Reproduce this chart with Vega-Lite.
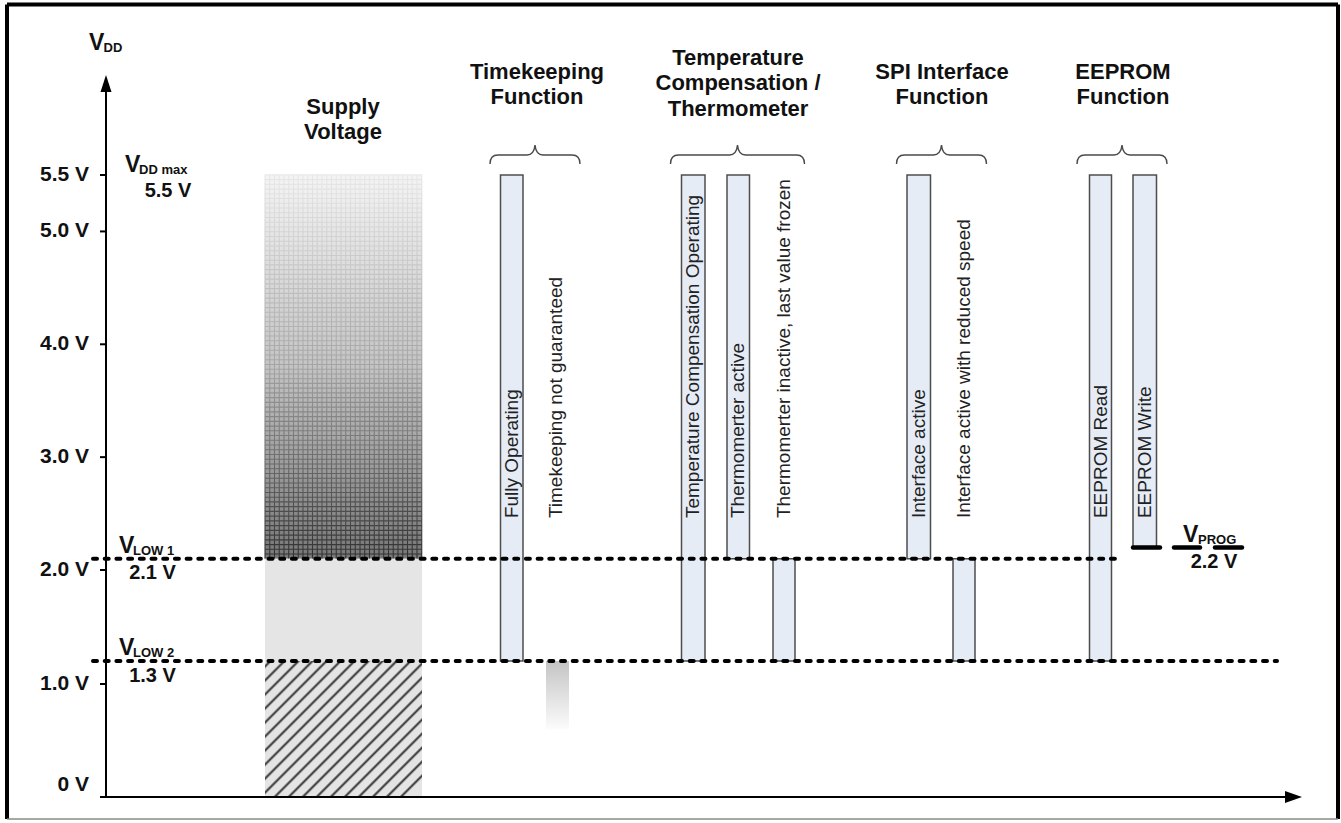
{
 "$schema": "https://vega.github.io/schema/vega-lite/v6.json",
 "width": 1341, "height": 823, "autosize": {"type": "none"}, "padding": 0,
 "background": "white",
 "config": {"view": {"stroke": null}, "text": {"font": "Liberation Sans"}},
 "datasets": {
  "frameThick": [
   {"x": 7, "x2": 7, "v": 7.011, "v2": -0.195},
   {"x": 7, "x2": 1338, "v": 7.011, "v2": 7.011},
   {"x": 1338, "x2": 1338, "v": 7.011, "v2": -0.195}
  ],
  "frameThin": [{"x": 7, "x2": 1338, "v": -0.195, "v2": -0.195}],
  "supplyTop": [{"x": 265, "x2": 422, "v": 2.1, "v2": 5.5}],
  "supplyGrid": [{"x": 343.5, "v": 3.8}],
  "supplyMid": [{"x": 265, "x2": 422, "v": 1.3, "v2": 2.1}],
  "supplyLow": [{"x": 265, "x2": 422, "v": 0, "v2": 1.3}],
  "notGuaranteed": [{"x": 546, "x2": 569, "v": 0.6, "v2": 1.3}],
  "bars": [
   {"x": 500.5, "x2": 523, "v": 1.3, "v2": 5.5, "name": "Fully Operating"},
   {"x": 681.5, "x2": 705, "v": 1.3, "v2": 5.5, "name": "Temperature Compensation Operating"},
   {"x": 727, "x2": 749.5, "v": 2.1, "v2": 5.5, "name": "Thermometer active"},
   {"x": 773, "x2": 795, "v": 1.3, "v2": 2.1, "name": "Thermometer inactive"},
   {"x": 907, "x2": 930.5, "v": 2.1, "v2": 5.5, "name": "Interface active"},
   {"x": 953, "x2": 975, "v": 1.3, "v2": 2.1, "name": "Interface reduced speed"},
   {"x": 1089.5, "x2": 1111.5, "v": 1.3, "v2": 5.5, "name": "EEPROM Read"},
   {"x": 1133, "x2": 1156.5, "v": 2.2, "v2": 5.5, "name": "EEPROM Write"}
  ],
  "axes": [
   {"x": 106, "x2": 106, "v": 0, "v2": 6.253},
   {"x": 100, "x2": 1290, "v": 0, "v2": 0},
   {"x": 100, "x2": 106, "v": 1, "v2": 1},
   {"x": 100, "x2": 106, "v": 2, "v2": 2},
   {"x": 100, "x2": 106, "v": 3, "v2": 3},
   {"x": 100, "x2": 106, "v": 4, "v2": 4},
   {"x": 100, "x2": 106, "v": 5, "v2": 5},
   {"x": 100, "x2": 106, "v": 5.5, "v2": 5.5}
  ],
  "arrowUp": [{"x": 106, "v": 6.311}],
  "arrowRight": [{"x": 1293.5, "v": 0}],
  "dashed": [
   {"x": 93, "x2": 1122, "v": 2.1, "v2": 2.1},
   {"x": 93, "x2": 1277, "v": 1.3, "v2": 1.3}
  ],
  "vprog": [
   {"x": 1133, "x2": 1160, "v": 2.2, "v2": 2.2},
   {"x": 1174, "x2": 1200, "v": 2.2, "v2": 2.2},
   {"x": 1215, "x2": 1242, "v": 2.2, "v2": 2.2}
  ],
  "bracesNarrow": [
   {"x": 535, "v": 5.677},
   {"x": 941.5, "v": 5.677},
   {"x": 1122, "v": 5.677}
  ],
  "bracesWide": [{"x": 737.5, "v": 5.677}],
  "headers": [
   {"x": 343, "v": 6.103, "t": "Supply\nVoltage"},
   {"x": 537, "v": 6.413, "t": "Timekeeping\nFunction"},
   {"x": 738, "v": 6.537, "t": "Temperature\nCompensation /\nThermometer"},
   {"x": 942, "v": 6.413, "t": "SPI Interface\nFunction"},
   {"x": 1123, "v": 6.413, "t": "EEPROM\nFunction"}
  ],
  "rotated": [
   {"x": 512, "v": 2.46, "t": "Fully Operating"},
   {"x": 556, "v": 2.46, "t": "Timekeeping not guaranteed"},
   {"x": 693, "v": 2.46, "t": "Temperature Compensation Operating"},
   {"x": 738, "v": 2.46, "t": "Thermomerter active"},
   {"x": 784, "v": 2.46, "t": "Thermomerter inactive, last value frozen"},
   {"x": 919, "v": 2.46, "t": "Interface active"},
   {"x": 964, "v": 2.46, "t": "Interface active with reduced speed"},
   {"x": 1100.5, "v": 2.46, "t": "EEPROM Read"},
   {"x": 1145, "v": 2.46, "t": "EEPROM Write"}
  ],
  "tickLabels": [
   {"x": 89, "v": 5.5, "t": "5.5 V"},
   {"x": 89, "v": 5, "t": "5.0 V"},
   {"x": 89, "v": 4, "t": "4.0 V"},
   {"x": 89, "v": 3, "t": "3.0 V"},
   {"x": 89, "v": 2, "t": "2.0 V"},
   {"x": 89, "v": 1, "t": "1.0 V"},
   {"x": 89, "v": 0.102, "t": "0 V"}
  ],
  "bigV": [
   {"x": 89, "v": 6.608, "t": "V"},
   {"x": 125, "v": 5.527, "t": "V"},
   {"x": 119, "v": 2.151, "t": "V"},
   {"x": 119, "v": 1.346, "t": "V"},
   {"x": 1183, "v": 2.248, "t": "V"}
  ],
  "subs": [
   {"x": 103.5, "v": 6.59, "t": "DD"},
   {"x": 139, "v": 5.509, "t": "DD max"},
   {"x": 133, "v": 2.133, "t": "LOW 1"},
   {"x": 133, "v": 1.331, "t": "LOW 2"},
   {"x": 1198, "v": 2.23, "t": "PROG"}
  ],
  "values": [
   {"x": 168, "v": 5.305, "t": "5.5 V"},
   {"x": 152.5, "v": 1.931, "t": "2.1 V"},
   {"x": 152.5, "v": 1.026, "t": "1.3 V"},
   {"x": 1214, "v": 2.018, "t": "2.2 V"}
  ]
 },
 "encoding": {
  "x": {"field": "x", "type": "quantitative", "scale": {"domain": [0, 1341], "range": [0, 1341], "nice": false, "zero": false}, "axis": null},
  "y": {"field": "v", "type": "quantitative", "scale": {"domain": [0, 1, 1.3, 2, 5.5], "range": [797, 684, 661, 570, 175], "nice": false, "zero": false}, "axis": null}
 },
 "layer": [
  {"data": {"name": "frameThick"}, "mark": {"type": "rule", "stroke": "black", "strokeWidth": 4},
   "encoding": {"x2": {"field": "x2"}, "y2": {"field": "v2"}}},
  {"data": {"name": "frameThin"}, "mark": {"type": "rule", "stroke": "#8a8a8a", "strokeWidth": 1.5},
   "encoding": {"x2": {"field": "x2"}, "y2": {"field": "v2"}}},
  {"data": {"name": "supplyTop"}, "mark": {"type": "rect", "fill": {"gradient": "linear", "x1": 0, "y1": 0, "x2": 0, "y2": 1, "stops": [{"offset": 0, "color": "#f4f4f4"}, {"offset": 0.5, "color": "#c4c4c4"}, {"offset": 1, "color": "#777777"}]}},
   "encoding": {"x2": {"field": "x2"}, "y2": {"field": "v2"}}},
  {"data": {"name": "supplyGrid"}, "mark": {"type": "point", "filled": false, "opacity": 1, "size": 4, "strokeWidth": 1.1,
    "shape": "M-78.5,-192v384m4.75,-384v384m4.75,-384v384m4.75,-384v384m4.75,-384v384m4.75,-384v384m4.75,-384v384m4.75,-384v384m4.75,-384v384m4.75,-384v384m4.75,-384v384m4.75,-384v384m4.75,-384v384m4.75,-384v384m4.75,-384v384m4.75,-384v384m4.75,-384v384m4.75,-384v384m4.75,-384v384m4.75,-384v384m4.75,-384v384m4.75,-384v384m4.75,-384v384m4.75,-384v384m4.75,-384v384m4.75,-384v384m4.75,-384v384m4.75,-384v384m4.75,-384v384m4.75,-384v384m4.75,-384v384m4.75,-384v384m4.75,-384v384m4.75,-384v384M-78.5,-192h157m-157,4.74h157m-157,4.74h157m-157,4.74h157m-157,4.74h157m-157,4.74h157m-157,4.74h157m-157,4.74h157m-157,4.74h157m-157,4.74h157m-157,4.74h157m-157,4.74h157m-157,4.74h157m-157,4.74h157m-157,4.74h157m-157,4.74h157m-157,4.74h157m-157,4.74h157m-157,4.74h157m-157,4.74h157m-157,4.74h157m-157,4.74h157m-157,4.74h157m-157,4.74h157m-157,4.74h157m-157,4.74h157m-157,4.74h157m-157,4.74h157m-157,4.74h157m-157,4.74h157m-157,4.74h157m-157,4.74h157m-157,4.74h157m-157,4.74h157m-157,4.74h157m-157,4.74h157m-157,4.74h157m-157,4.74h157m-157,4.74h157m-157,4.74h157m-157,4.74h157m-157,4.74h157m-157,4.74h157m-157,4.74h157m-157,4.74h157m-157,4.74h157m-157,4.74h157m-157,4.74h157m-157,4.74h157m-157,4.74h157m-157,4.74h157m-157,4.74h157m-157,4.74h157m-157,4.74h157m-157,4.74h157m-157,4.74h157m-157,4.74h157m-157,4.74h157m-157,4.74h157m-157,4.74h157m-157,4.74h157m-157,4.74h157m-157,4.74h157m-157,4.74h157m-157,4.74h157m-157,4.74h157m-157,4.74h157m-157,4.74h157m-157,4.74h157m-157,4.74h157m-157,4.74h157m-157,4.74h157m-157,4.74h157m-157,4.74h157m-157,4.74h157m-157,4.74h157m-157,4.74h157m-157,4.74h157m-157,4.74h157m-157,4.74h157m-157,4.74h157",
    "stroke": {"gradient": "linear", "x1": 0, "y1": 0, "x2": 0, "y2": 1, "stops": [{"offset": 0, "color": "#e8e8e8"}, {"offset": 0.5, "color": "#a4a4a4"}, {"offset": 1, "color": "#303030"}]}}},
  {"data": {"name": "supplyMid"}, "mark": {"type": "rect", "fill": "#e5e5e5"},
   "encoding": {"x2": {"field": "x2"}, "y2": {"field": "v2"}}},
  {"data": {"name": "supplyLow"}, "mark": {"type": "rect", "fill": {"gradient": "linear", "x1": 0, "y1": 0, "x2": 1, "y2": 0.866, "stops": [
    {"offset": 0.01, "color": "#e4e4e4"}, {"offset": 0.02, "color": "#2a2a2a"}, {"offset": 0.03, "color": "#e4e4e4"},
    {"offset": 0.061, "color": "#e4e4e4"}, {"offset": 0.071, "color": "#2a2a2a"}, {"offset": 0.081, "color": "#e4e4e4"},
    {"offset": 0.112, "color": "#e4e4e4"}, {"offset": 0.122, "color": "#2a2a2a"}, {"offset": 0.132, "color": "#e4e4e4"},
    {"offset": 0.163, "color": "#e4e4e4"}, {"offset": 0.173, "color": "#2a2a2a"}, {"offset": 0.183, "color": "#e4e4e4"},
    {"offset": 0.214, "color": "#e4e4e4"}, {"offset": 0.224, "color": "#2a2a2a"}, {"offset": 0.234, "color": "#e4e4e4"},
    {"offset": 0.265, "color": "#e4e4e4"}, {"offset": 0.275, "color": "#2a2a2a"}, {"offset": 0.285, "color": "#e4e4e4"},
    {"offset": 0.316, "color": "#e4e4e4"}, {"offset": 0.326, "color": "#2a2a2a"}, {"offset": 0.336, "color": "#e4e4e4"},
    {"offset": 0.367, "color": "#e4e4e4"}, {"offset": 0.377, "color": "#2a2a2a"}, {"offset": 0.387, "color": "#e4e4e4"},
    {"offset": 0.418, "color": "#e4e4e4"}, {"offset": 0.428, "color": "#2a2a2a"}, {"offset": 0.438, "color": "#e4e4e4"},
    {"offset": 0.469, "color": "#e4e4e4"}, {"offset": 0.479, "color": "#2a2a2a"}, {"offset": 0.489, "color": "#e4e4e4"},
    {"offset": 0.52, "color": "#e4e4e4"}, {"offset": 0.53, "color": "#2a2a2a"}, {"offset": 0.54, "color": "#e4e4e4"},
    {"offset": 0.571, "color": "#e4e4e4"}, {"offset": 0.581, "color": "#2a2a2a"}, {"offset": 0.591, "color": "#e4e4e4"},
    {"offset": 0.622, "color": "#e4e4e4"}, {"offset": 0.632, "color": "#2a2a2a"}, {"offset": 0.642, "color": "#e4e4e4"},
    {"offset": 0.673, "color": "#e4e4e4"}, {"offset": 0.683, "color": "#2a2a2a"}, {"offset": 0.693, "color": "#e4e4e4"},
    {"offset": 0.724, "color": "#e4e4e4"}, {"offset": 0.734, "color": "#2a2a2a"}, {"offset": 0.744, "color": "#e4e4e4"},
    {"offset": 0.775, "color": "#e4e4e4"}, {"offset": 0.785, "color": "#2a2a2a"}, {"offset": 0.795, "color": "#e4e4e4"},
    {"offset": 0.826, "color": "#e4e4e4"}, {"offset": 0.836, "color": "#2a2a2a"}, {"offset": 0.846, "color": "#e4e4e4"},
    {"offset": 0.877, "color": "#e4e4e4"}, {"offset": 0.887, "color": "#2a2a2a"}, {"offset": 0.897, "color": "#e4e4e4"},
    {"offset": 0.928, "color": "#e4e4e4"}, {"offset": 0.938, "color": "#2a2a2a"}, {"offset": 0.948, "color": "#e4e4e4"},
    {"offset": 0.979, "color": "#e4e4e4"}, {"offset": 0.989, "color": "#2a2a2a"}, {"offset": 0.999, "color": "#e4e4e4"}]}},
   "encoding": {"x2": {"field": "x2"}, "y2": {"field": "v2"}}},
  {"data": {"name": "notGuaranteed"}, "mark": {"type": "rect", "fill": {"gradient": "linear", "x1": 0, "y1": 0, "x2": 0, "y2": 1, "stops": [{"offset": 0, "color": "#c4c4c4"}, {"offset": 1, "color": "#fcfcfc"}]}},
   "encoding": {"x2": {"field": "x2"}, "y2": {"field": "v2"}}},
  {"data": {"name": "bars"}, "mark": {"type": "rect", "fill": "#e6ecf6", "stroke": "#4d4d4d", "strokeWidth": 1.5},
   "encoding": {"x2": {"field": "x2"}, "y2": {"field": "v2"}}},
  {"data": {"name": "axes"}, "mark": {"type": "rule", "stroke": "black", "strokeWidth": 2},
   "encoding": {"x2": {"field": "x2"}, "y2": {"field": "v2"}}},
  {"data": {"name": "arrowUp"}, "mark": {"type": "point", "filled": true, "opacity": 1, "color": "black", "size": 4, "shape": "M0,-8.5L5.5,8.5L-5.5,8.5Z"}},
  {"data": {"name": "arrowRight"}, "mark": {"type": "point", "filled": true, "opacity": 1, "color": "black", "size": 4, "shape": "M8.5,0L-8.5,-6L-8.5,6Z"}},
  {"data": {"name": "dashed"}, "mark": {"type": "rule", "stroke": "black", "strokeWidth": 4, "strokeDash": [4, 7.7], "strokeCap": "round"},
   "encoding": {"x2": {"field": "x2"}, "y2": {"field": "v2"}}},
  {"data": {"name": "vprog"}, "mark": {"type": "rule", "stroke": "black", "strokeWidth": 4.5, "strokeCap": "round"},
   "encoding": {"x2": {"field": "x2"}, "y2": {"field": "v2"}}},
  {"data": {"name": "bracesNarrow"}, "mark": {"type": "point", "filled": false, "opacity": 1, "color": "#4a4a4a", "strokeWidth": 1.4, "size": 4,
    "shape": "M-45,9Q-45,0 -37,0L-8,0Q-1,0 0,-10Q1,0 8,0L37,0Q45,0 45,9"}},
  {"data": {"name": "bracesWide"}, "mark": {"type": "point", "filled": false, "opacity": 1, "color": "#4a4a4a", "strokeWidth": 1.4, "size": 4,
    "shape": "M-67,9Q-67,0 -59,0L-8,0Q-1,0 0,-10Q1,0 8,0L59,0Q67,0 67,9"}},
  {"data": {"name": "headers"}, "mark": {"type": "text", "fontSize": 22, "fontWeight": "bold", "color": "#111111", "align": "center", "baseline": "middle", "lineBreak": "\n", "lineHeight": 25.5},
   "encoding": {"text": {"field": "t"}}},
  {"data": {"name": "rotated"}, "mark": {"type": "text", "fontSize": 19, "color": "#222222", "align": "left", "baseline": "middle", "angle": 270},
   "encoding": {"text": {"field": "t"}}},
  {"data": {"name": "tickLabels"}, "mark": {"type": "text", "fontSize": 21, "fontWeight": "bold", "color": "#111111", "align": "right", "baseline": "middle"},
   "encoding": {"text": {"field": "t"}}},
  {"data": {"name": "bigV"}, "mark": {"type": "text", "fontSize": 23, "fontWeight": "bold", "color": "#111111", "align": "left", "baseline": "alphabetic"},
   "encoding": {"text": {"field": "t"}}},
  {"data": {"name": "subs"}, "mark": {"type": "text", "fontSize": 13, "fontWeight": "bold", "color": "#111111", "align": "left", "baseline": "alphabetic"},
   "encoding": {"text": {"field": "t"}}},
  {"data": {"name": "values"}, "mark": {"type": "text", "fontSize": 20, "fontWeight": "bold", "color": "#111111", "align": "center", "baseline": "alphabetic"},
   "encoding": {"text": {"field": "t"}}}
 ]
}
